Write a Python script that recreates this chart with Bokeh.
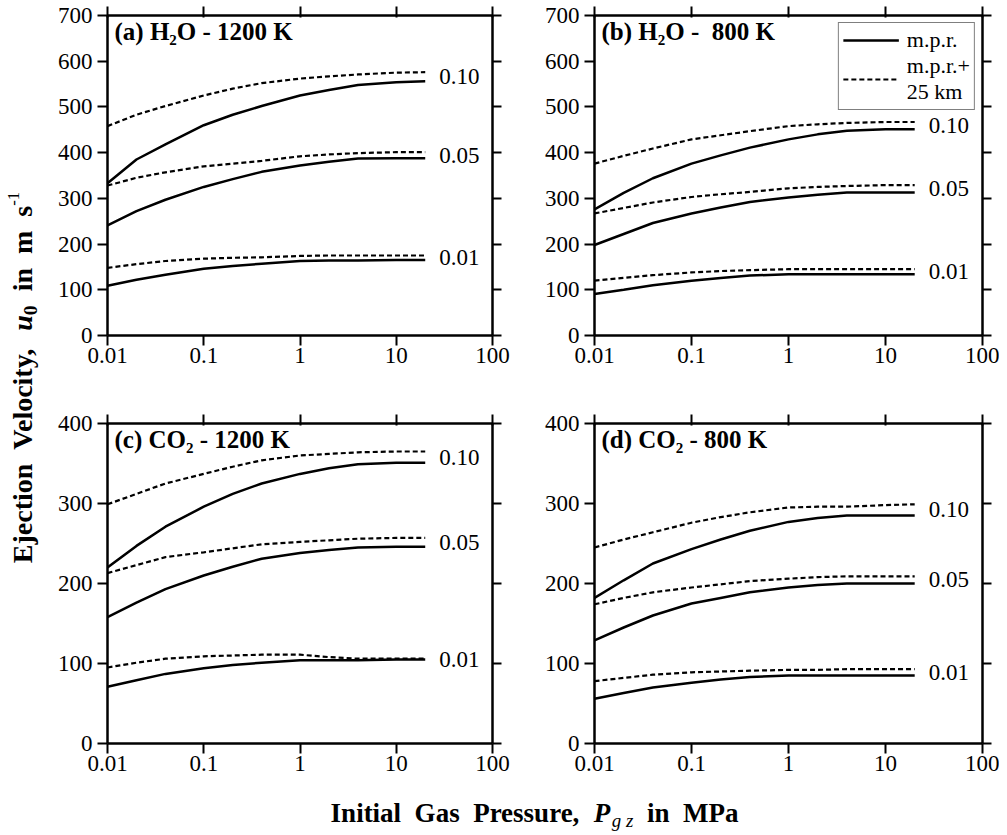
from math import pi
from bokeh.plotting import figure
from bokeh.models import (Range1d, LinearAxis, LogAxis, FixedTicker,
                          CustomJSTickFormatter, Label, Legend, LegendItem)
from bokeh.layouts import row, column
from bokeh.embed import file_html
from bokeh.resources import INLINE
from bokeh.core.properties import value

# ---------------- data ----------------
pressure = [0.01, 0.02, 0.04, 0.1, 0.2, 0.4, 1, 2, 4, 10, 20]   # MPa
x_ticks = [0.01, 0.1, 1, 10, 100]
porosity_labels = ["0.10", "0.05", "0.01"]

# (a) H2O - 1200 K
a_mpr_010 = [333, 385, 418, 460, 483, 502, 525, 537, 548, 554, 556]
a_25km_010 = [458, 483, 502, 525, 540, 552, 562, 567, 571, 575, 576]
a_mpr_005 = [241, 272, 297, 325, 342, 358, 372, 380, 387, 388, 388]
a_25km_005 = [328, 345, 357, 370, 376, 382, 392, 396, 399, 401, 401]
a_mpr_001 = [109, 122, 133, 146, 152, 157, 163, 164, 164, 165, 165]
a_25km_001 = [148, 156, 163, 168, 170, 171, 174, 175, 175, 175, 175]

# (b) H2O - 800 K
b_mpr_010 = [276, 312, 344, 376, 394, 411, 429, 440, 448, 451, 451]
b_25km_010 = [376, 393, 409, 429, 438, 447, 458, 462, 465, 467, 467]
b_mpr_005 = [198, 222, 246, 267, 280, 292, 302, 308, 313, 313, 313]
b_25km_005 = [267, 279, 291, 303, 309, 314, 322, 325, 327, 329, 329]
b_mpr_001 = [91, 100, 110, 120, 126, 131, 134, 134, 134, 134, 134]
b_25km_001 = [120, 126, 132, 138, 141, 143, 145, 145, 145, 145, 145]

# (c) CO2 - 1200 K
c_mpr_010 = [220, 247, 271, 296, 312, 325, 337, 344, 349, 351, 351]
c_25km_010 = [299, 312, 325, 337, 346, 354, 360, 362, 364, 365, 365]
c_mpr_005 = [158, 176, 193, 210, 221, 231, 238, 242, 245, 246, 246]
c_25km_005 = [213, 223, 233, 239, 244, 249, 252, 254, 256, 257, 257]
c_mpr_001 = [71, 79, 87, 94, 98, 101, 104, 104, 104, 105, 105]
c_25km_001 = [95, 101, 106, 109, 110, 111, 111, 108, 106, 106, 106]

# (d) CO2 - 800 K
d_mpr_010 = [182, 204, 225, 243, 255, 266, 277, 282, 285, 285, 285]
d_25km_010 = [245, 255, 264, 276, 283, 289, 295, 296, 296, 298, 299]
d_mpr_005 = [129, 145, 160, 175, 182, 189, 195, 198, 200, 200, 200]
d_25km_005 = [174, 182, 189, 195, 199, 203, 206, 208, 209, 209, 209]
d_mpr_001 = [56, 63, 70, 76, 80, 83, 85, 85, 85, 85, 85]
d_25km_001 = [78, 82, 86, 89, 90, 91, 92, 92, 93, 93, 93]

panel_titles = ["(a) H\u2082O - 1200 K", "(b) H\u2082O -\u00a0 800 K",
                "(c) CO\u2082 - 1200 K", "(d) CO\u2082 - 800 K"]
y_max = [700, 700, 400, 400]
legend_labels = ["m.p.r.", "m.p.r.+\n25 km"]

SERIF = "Liberation Serif"
TICK_FS = "23px"
NB = "\u00a0"


def make_panel(title, ymax, solids, dashes, bl, br, bt, bb, fw, legend=False):
    p = figure(x_axis_type="log", x_range=Range1d(0.01, 100),
               y_range=Range1d(0, ymax), frame_width=fw, frame_height=320,
               min_border_left=bl, min_border_right=br, min_border_top=bt,
               min_border_bottom=bb, toolbar_location=None,
               output_backend="svg", outline_line_color=None)
    p.grid.visible = False
    yt = FixedTicker(ticks=list(range(0, ymax + 1, 100)))
    xt = FixedTicker(ticks=x_ticks)
    fmt = CustomJSTickFormatter(code="return tick.toString();")
    blank = CustomJSTickFormatter(code="return '';")

    def style(ax):
        ax.axis_line_width = 2.5
        ax.axis_line_color = "black"
        ax.major_tick_line_width = 2
        ax.major_tick_line_color = "black"
        ax.minor_tick_line_color = None
        ax.major_label_text_font = SERIF
        ax.major_label_text_font_size = TICK_FS
        ax.major_label_text_color = "black"

    ax = p.xaxis[0]
    ax.ticker = xt
    ax.formatter = fmt
    style(ax)
    ax.major_tick_out = 10
    ax.major_tick_in = 0
    ax.major_label_standoff = 2

    ay = p.yaxis[0]
    ay.ticker = yt
    style(ay)
    ay.major_tick_out = 10
    ay.major_tick_in = 0
    ay.major_label_standoff = 5

    top = LogAxis(ticker=xt, formatter=blank)
    style(top)
    top.major_label_text_font_size = "0px"
    top.major_label_standoff = 0
    top.major_tick_out = 9
    top.major_tick_in = 2
    p.add_layout(top, "above")

    right = LinearAxis(ticker=yt, formatter=blank)
    style(right)
    right.major_label_text_font_size = "0px"
    right.major_label_standoff = 0
    right.major_tick_out = 9
    right.major_tick_in = 0
    p.add_layout(right, "right")

    rs, rd = [], []
    for s, d in zip(solids, dashes):
        rs.append(p.line(pressure, s, line_color="black", line_width=2.5))
        rd.append(p.line(pressure, d, line_color="black", line_width=2.2,
                         line_dash="5 3"))

    ly = [(s[-1] + d[-1]) / 2 for s, d in zip(solids, dashes)]
    p.text(x=[pressure[-1] * 1.4] * len(ly), y=ly, text=porosity_labels,
           text_font=value(SERIF), text_font_size="23px",
           text_baseline="middle", text_align="left", text_color="black")

    p.add_layout(Label(x=0.01, y=ymax, x_offset=7, y_offset=-16,
                       text=title, text_font=SERIF, text_font_size="25px",
                       text_font_style="bold", text_baseline="middle",
                       text_color="black"))

    if legend:
        lg = Legend(items=[LegendItem(label=legend_labels[0], renderers=[rs[0]]),
                           LegendItem(label=legend_labels[1], renderers=[rd[0]])],
                    location="top_right", margin=7, padding=4, spacing=0,
                    glyph_width=56, glyph_height=16, label_standoff=8,
                    label_text_font=SERIF, label_text_font_size="22px",
                    label_text_color="black", label_text_line_height=0.82,
                    border_line_color="black", border_line_width=1.5,
                    background_fill_alpha=1.0)
        p.add_layout(lg)
    return p


pa = make_panel(panel_titles[0], y_max[0],
                [a_mpr_010, a_mpr_005, a_mpr_001],
                [a_25km_010, a_25km_005, a_25km_001], 63, 40, 15, 48, 385)
pb = make_panel(panel_titles[1], y_max[1],
                [b_mpr_010, b_mpr_005, b_mpr_001],
                [b_25km_010, b_25km_005, b_25km_001], 62, 17, 15, 48, 388,
                legend=True)
pc = make_panel(panel_titles[2], y_max[2],
                [c_mpr_010, c_mpr_005, c_mpr_001],
                [c_25km_010, c_25km_005, c_25km_001], 63, 40, 40, 42, 385)
pd = make_panel(panel_titles[3], y_max[3],
                [d_mpr_010, d_mpr_005, d_mpr_001],
                [d_25km_010, d_25km_005, d_25km_001], 62, 17, 40, 42, 388)

# ---------------- axis titles (composed rich text) ----------------
BOLD = {' ': 250, NB: 250, ',': 250, '-': 333, '.': 250, 'E': 667, 'V': 722,
        'I': 389, 'G': 778, 'P': 611, 'M': 944, 'a': 500, 'c': 444, 'e': 444,
        'i': 278, 'j': 333, 'l': 278, 'm': 833, 'n': 556, 'o': 500, 'r': 444,
        's': 389, 't': 333, 'u': 556, 'y': 500}
ITAL = {' ': 250, NB: 250, 'g': 500, 'z': 389, 'P': 667, 'u': 556}


def tw(s, size, table):
    return sum(table.get(ch, 500) for ch in s) * size / 1000.0


def blank_fig(w, h):
    f = figure(width=w, height=h, x_range=Range1d(0, w), y_range=Range1d(0, h),
               toolbar_location=None, output_backend="svg",
               x_axis_location=None, y_axis_location=None,
               outline_line_color=None, min_border=0)
    f.grid.visible = False
    return f


def anchor_shift(F, fs, bshift):
    # offset (in the text's "down" direction) of a 'middle'-anchored piece
    return 0.3 * F + bshift - 0.3 * fs


# y label (rotated, reads bottom -> top)
FY = 28
YW, YH = 44, 785
ylab = blank_fig(YW, YH)
y_segs = [("Ejection" + NB * 2 + "Velocity," + NB * 2, "bold", FY, 0, BOLD),
          ("u", "bold italic", FY, 0, ITAL),
          ("0", "bold", 0.7 * FY, 0.2 * FY, BOLD),
          (NB * 2 + "in" + NB * 2 + "m" + NB * 2 + "s", "bold", FY, 0, BOLD),
          ("-1", "normal", 0.6 * FY, -0.45 * FY, BOLD)]
L = sum(tw(s, fs, tb) for s, _, fs, _, tb in y_segs)
pos = (YH - 377) - L / 2
mid_x = 22
for s, st, fs, bsh, tb in y_segs:
    ylab.add_layout(Label(x=mid_x + anchor_shift(FY, fs, bsh), y=pos, text=s,
                          angle=pi / 2, text_font=SERIF,
                          text_font_size=f"{fs:.1f}px", text_font_style=st,
                          text_align="left", text_baseline="middle",
                          text_color="black"))
    pos += tw(s, fs, tb)

# x label
FX = 27
XW, XH = 999, 48
xlab = blank_fig(XW, XH)
x_segs = [("Initial" + NB * 2 + "Gas" + NB * 2 + "Pressure," + NB * 2, "bold", FX, 0, BOLD),
          ("P", "bold italic", FX, 0, ITAL),
          ("g" + NB + "z", "italic", 0.7 * FX, 0.2 * FX, ITAL),
          (NB * 2 + "in" + NB * 2 + "MPa", "bold", FX, 0, BOLD)]
L = sum(tw(s, fs, tb) for s, _, fs, _, tb in x_segs)
pos = 534 - L / 2
mid_y = (785 + XH) - 812
for s, st, fs, bsh, tb in x_segs:
    xlab.add_layout(Label(x=pos, y=mid_y - anchor_shift(FX, fs, bsh), text=s,
                          text_font=SERIF, text_font_size=f"{fs:.1f}px",
                          text_font_style=st, text_align="left",
                          text_baseline="middle", text_color="black"))
    pos += tw(s, fs, tb)

grid = column(row(pa, pb), row(pc, pd))
layout = column(row(ylab, grid), xlab)

open("out.html", "w").write(file_html(layout, INLINE))
